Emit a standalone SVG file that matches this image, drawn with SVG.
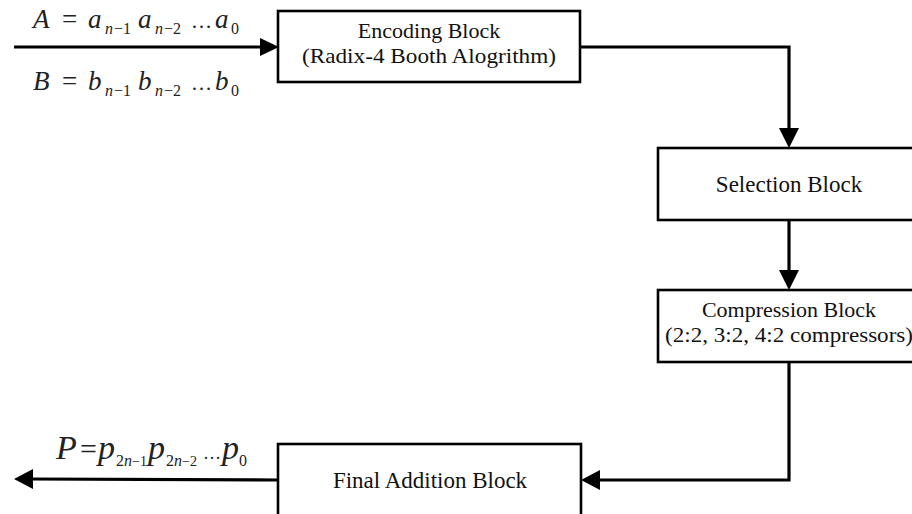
<svg xmlns="http://www.w3.org/2000/svg" width="912" height="514" viewBox="0 0 912 514">
<defs>
<style>
.box{fill:#fff;stroke:#000;stroke-width:2.6}
.lbl{font-family:"Liberation Serif","Times New Roman",serif;font-size:23px;fill:#111;text-anchor:middle}
.two{font-size:22px}
.conn{fill:none;stroke:#000;stroke-width:3.2}
.head{fill:#000}
.m{font-family:"Liberation Serif","Times New Roman",serif;fill:#222;font-style:italic}
.big{font-size:27px}
.sub{font-size:16px}
.up{font-style:normal}
</style>
</defs>
<rect width="912" height="514" fill="#fff"/>
<g id="connectors">
<path class="conn" d="M14,47 L262,47"/>
<path class="head" d="M260,38 L279,47 L260,56 Z"/>
<path class="conn" d="M580,47 L789,47 L789,130"/>
<path class="head" d="M779,128 L789,148 L799,128 Z"/>
<path class="conn" d="M789,220 L789,272"/>
<path class="head" d="M779,270 L789,290 L799,270 Z"/>
<path class="conn" d="M789,362 L789,480 L598,480"/>
<path class="head" d="M600,470 L581,480 L600,490 Z"/>
<path class="conn" d="M278,480 L30,479"/>
<path class="head" d="M33,469 L14,479 L33,489 Z"/>
</g>
<g id="encoding">
<rect class="box" x="278" y="11" width="302" height="71"/>
<text class="lbl two" x="429" y="38">Encoding Block</text>
<text class="lbl two" x="429" y="63" textLength="254" lengthAdjust="spacingAndGlyphs">(Radix-4 Booth Alogrithm)</text>
</g>
<g id="selection">
<rect class="box" x="658" y="148" width="270" height="72"/>
<text class="lbl" x="789" y="192">Selection Block</text>
</g>
<g id="compression">
<rect class="box" x="658" y="290" width="270" height="72"/>
<text class="lbl two" x="789" y="317">Compression Block</text>
<text class="lbl two" x="789" y="342" textLength="248" lengthAdjust="spacingAndGlyphs">(2:2, 3:2, 4:2 compressors)</text>
</g>
<g id="final">
<rect class="box" x="278" y="444" width="303" height="90"/>
<text class="lbl" x="430" y="488">Final Addition Block</text>
</g>
<g id="labels">
<text class="m"><tspan class="big" x="33" y="28">A</tspan><tspan class="big up" x="62" y="28">=</tspan><tspan class="big" x="88" y="28">a</tspan><tspan class="sub" x="105" y="34">n</tspan><tspan class="sub up" x="114" y="34">−1</tspan><tspan class="big" x="138" y="28">a</tspan><tspan class="sub" x="155" y="34">n</tspan><tspan class="sub up" x="164" y="34">−2</tspan><tspan class="up" x="191" y="28" font-size="21">…</tspan><tspan class="big" x="215" y="28">a</tspan><tspan class="sub up" x="231" y="34">0</tspan></text>
<text class="m"><tspan class="big" x="33" y="90">B</tspan><tspan class="big up" x="62" y="90">=</tspan><tspan class="big" x="88" y="90">b</tspan><tspan class="sub" x="105" y="96">n</tspan><tspan class="sub up" x="114" y="96">−1</tspan><tspan class="big" x="138" y="90">b</tspan><tspan class="sub" x="155" y="96">n</tspan><tspan class="sub up" x="164" y="96">−2</tspan><tspan class="up" x="191" y="90" font-size="21">…</tspan><tspan class="big" x="215" y="90">b</tspan><tspan class="sub up" x="231" y="96">0</tspan></text>
<text class="m"><tspan x="56" y="459" font-size="34">P</tspan><tspan class="up" x="80" y="459" font-size="30">=</tspan><tspan x="98" y="459" font-size="34">p</tspan><tspan class="up" x="116" y="466" font-size="16">2</tspan><tspan x="124" y="466" font-size="16">n</tspan><tspan class="up" x="132" y="466" font-size="14">−</tspan><tspan class="up" x="140" y="466" font-size="14">1</tspan><tspan x="148" y="459" font-size="34">p</tspan><tspan class="up" x="166" y="466" font-size="16">2</tspan><tspan x="174" y="466" font-size="16">n</tspan><tspan class="up" x="182" y="466" font-size="14">−</tspan><tspan class="up" x="190" y="466" font-size="14">2</tspan><tspan class="up" x="203" y="459" font-size="18">…</tspan><tspan x="222" y="459" font-size="34">p</tspan><tspan class="up" x="239" y="466" font-size="16">0</tspan></text>
</g>
</svg>
